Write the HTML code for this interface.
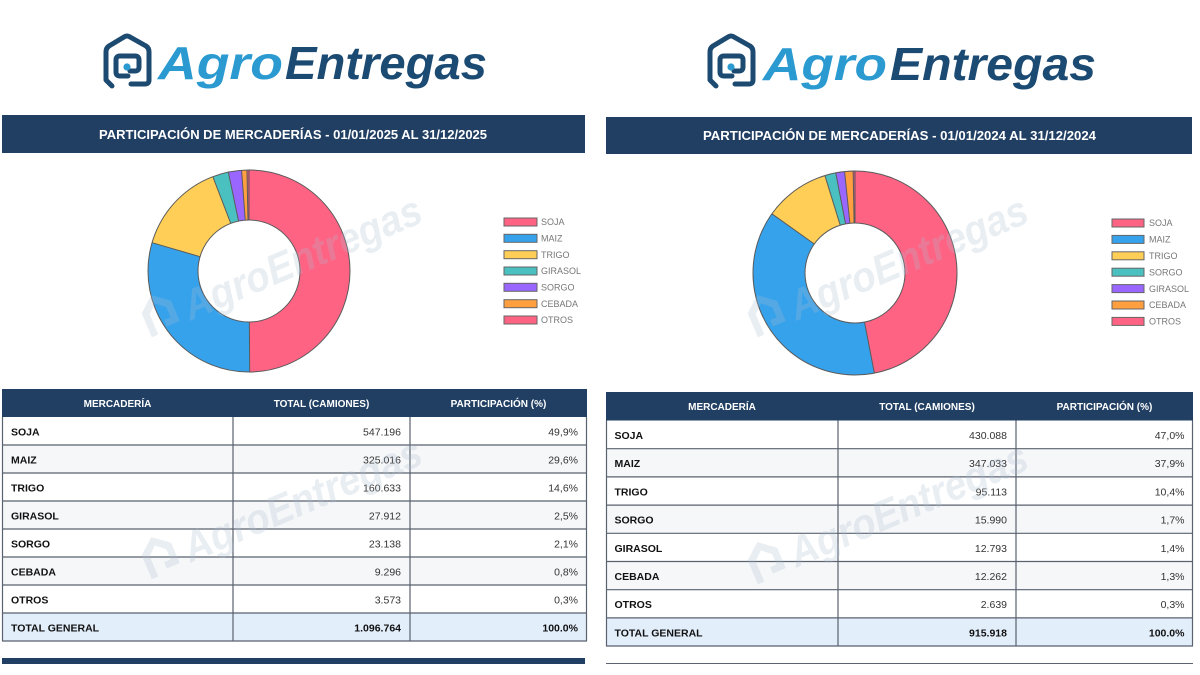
<!DOCTYPE html>
<html>
<head>
<meta charset="utf-8">
<style>
  html,body{margin:0;padding:0;background:#fff;}
  svg{display:block;}
  text{font-family:"Liberation Sans", Arial, sans-serif;}
</style>
</head>
<body>
<svg width="1200" height="675" viewBox="0 0 1200 675" xmlns="http://www.w3.org/2000/svg">
  <rect x="0" y="0" width="1200" height="675" fill="#ffffff"/>

  <!-- ============ LOGOS ============ -->
  <g id="logoL">
    <g fill="none" stroke="#1d4a70" stroke-width="5" stroke-linejoin="round" stroke-linecap="round">
      <path d="M112 86 L106 80 L106 52 Q106 48 109 46 L124 37 Q127 35 130 37 L146 46 Q149 48 149 52 L149 80 Q149 84 145 84 L131 84"/>
      <path d="M128 76 L120 76 Q116 76 116 72 L116 60 Q116 56 120 56 L135 56 Q139 56 139 60 L139 67 Q139 71 135 71 L130 71"/>
    </g>
    <circle cx="127" cy="67" r="3.6" fill="#2a9ad0"/>
    <text x="158" y="79" font-size="46" font-weight="bold" font-style="italic" fill="#2a9ad0" textLength="125" lengthAdjust="spacingAndGlyphs">Agro</text>
    <text x="285" y="79" font-size="46" font-weight="bold" font-style="italic" fill="#1b4a72" textLength="202" lengthAdjust="spacingAndGlyphs">Entregas</text>
  </g>
  <g id="logoR">
    <g fill="none" stroke="#1d4a70" stroke-width="5" stroke-linejoin="round" stroke-linecap="round" transform="translate(604,0)">
      <path d="M112 86 L106 80 L106 52 Q106 48 109 46 L124 37 Q127 35 130 37 L146 46 Q149 48 149 52 L149 80 Q149 84 145 84 L131 84"/>
      <path d="M128 76 L120 76 Q116 76 116 72 L116 60 Q116 56 120 56 L135 56 Q139 56 139 60 L139 67 Q139 71 135 71 L130 71"/>
    </g>
    <circle cx="731" cy="67" r="3.6" fill="#2a9ad0"/>
    <text x="763" y="80" font-size="46" font-weight="bold" font-style="italic" fill="#2a9ad0" textLength="124" lengthAdjust="spacingAndGlyphs">Agro</text>
    <text x="890" y="80" font-size="46" font-weight="bold" font-style="italic" fill="#1b4a72" textLength="206" lengthAdjust="spacingAndGlyphs">Entregas</text>
  </g>

  <!-- ============ TITLE BARS ============ -->
  <rect x="2" y="115" width="583" height="38" fill="#213f63"/>
  <text x="99" y="139" font-size="13" font-weight="bold" fill="#ffffff" textLength="388" lengthAdjust="spacingAndGlyphs">PARTICIPACIÓN DE MERCADERÍAS - 01/01/2025 AL 31/12/2025</text>
  <rect x="606" y="117" width="586" height="37" fill="#213f63"/>
  <text x="703" y="140" font-size="13" font-weight="bold" fill="#ffffff" textLength="393" lengthAdjust="spacingAndGlyphs">PARTICIPACIÓN DE MERCADERÍAS - 01/01/2024 AL 31/12/2024</text>

  <!-- ============ LEFT DONUT ============ -->
  <g fill="none" stroke-width="50" transform="rotate(-90 249 271)">
    <circle cx="249" cy="271" r="76" stroke="#ff6384" stroke-dasharray="238.245 477.522" stroke-dashoffset="0"/>
    <circle cx="249" cy="271" r="76" stroke="#36a2eb" stroke-dasharray="141.509 477.522" stroke-dashoffset="-238.245"/>
    <circle cx="249" cy="271" r="76" stroke="#ffce56" stroke-dasharray="69.938 477.522" stroke-dashoffset="-379.754"/>
    <circle cx="249" cy="271" r="76" stroke="#4bc0c0" stroke-dasharray="12.153 477.522" stroke-dashoffset="-449.692"/>
    <circle cx="249" cy="271" r="76" stroke="#9966ff" stroke-dasharray="10.076 477.522" stroke-dashoffset="-461.845"/>
    <circle cx="249" cy="271" r="76" stroke="#ff9f40" stroke-dasharray="4.049 477.522" stroke-dashoffset="-471.921"/>
    <circle cx="249" cy="271" r="76" stroke="#e8577a" stroke-dasharray="1.557 477.522" stroke-dashoffset="-475.970"/>
  </g>
  <g stroke="#5a5a5a" stroke-width="1" fill="none">
    <circle cx="249" cy="271" r="101"/>
    <circle cx="249" cy="271" r="51"/>
    <line x1="249" y1="220" x2="249" y2="170"/>
    <line x1="249.35" y1="322" x2="249.7" y2="372"/>
    <line x1="200.05" y1="256.69" x2="152.06" y2="242.67"/>
    <line x1="230.74" y1="223.38" x2="212.84" y2="176.70"/>
    <line x1="238.56" y1="221.08" x2="228.32" y2="172.14"/>
    <line x1="245.25" y1="220.14" x2="241.57" y2="170.27"/>
    <line x1="247.96" y1="220.01" x2="246.94" y2="170.02"/>
  </g>

  <!-- left legend -->
  <g stroke-width="1" stroke="#666">
    <rect x="504" y="218" width="33" height="8" fill="#ff6384"/>
    <rect x="504" y="234.3" width="33" height="8" fill="#36a2eb"/>
    <rect x="504" y="250.7" width="33" height="8" fill="#ffce56"/>
    <rect x="504" y="267" width="33" height="8" fill="#4bc0c0"/>
    <rect x="504" y="283.3" width="33" height="8" fill="#9966ff"/>
    <rect x="504" y="299.7" width="33" height="8" fill="#ff9f40"/>
    <rect x="504" y="316" width="33" height="8" fill="#ff6384"/>
  </g>
  <g font-size="9" fill="#777">
    <text x="541" y="225.2">SOJA</text>
    <text x="541" y="241.5">MAIZ</text>
    <text x="541" y="257.9">TRIGO</text>
    <text x="541" y="274.2">GIRASOL</text>
    <text x="541" y="290.5">SORGO</text>
    <text x="541" y="306.9">CEBADA</text>
    <text x="541" y="323.2">OTROS</text>
  </g>

  <!-- ============ RIGHT DONUT ============ -->
  <g fill="none" stroke-width="52" transform="rotate(-90 855 273)">
    <circle cx="855" cy="273" r="76" stroke="#ff6384" stroke-dasharray="224.230 477.522" stroke-dashoffset="0"/>
    <circle cx="855" cy="273" r="76" stroke="#36a2eb" stroke-dasharray="180.929 477.522" stroke-dashoffset="-224.230"/>
    <circle cx="855" cy="273" r="76" stroke="#ffce56" stroke-dasharray="49.586 477.522" stroke-dashoffset="-405.159"/>
    <circle cx="855" cy="273" r="76" stroke="#4bc0c0" stroke-dasharray="8.338 477.522" stroke-dashoffset="-454.745"/>
    <circle cx="855" cy="273" r="76" stroke="#9966ff" stroke-dasharray="6.671 477.522" stroke-dashoffset="-463.083"/>
    <circle cx="855" cy="273" r="76" stroke="#ff9f40" stroke-dasharray="6.394 477.522" stroke-dashoffset="-469.754"/>
    <circle cx="855" cy="273" r="76" stroke="#e8577a" stroke-dasharray="1.375 477.522" stroke-dashoffset="-476.148"/>
  </g>
  <g stroke="#5a5a5a" stroke-width="1" fill="none">
    <circle cx="855" cy="273" r="102"/>
    <circle cx="855" cy="273" r="50"/>
    <line x1="855" y1="223" x2="855" y2="171"/>
    <line x1="864.5" y1="322.09" x2="874.38" y2="373.14"/>
    <line x1="814.27" y1="244.0" x2="771.91" y2="213.84"/>
    <line x1="840.24" y1="225.23" x2="824.89" y2="175.55"/>
    <line x1="845.56" y1="223.9" x2="835.73" y2="172.84"/>
    <line x1="849.9" y1="223.26" x2="844.59" y2="171.53"/>
    <line x1="854.1" y1="223.01" x2="853.15" y2="171.02"/>
  </g>

  <!-- right legend -->
  <g stroke-width="1" stroke="#666">
    <rect x="1112" y="219" width="32" height="8" fill="#ff6384"/>
    <rect x="1112" y="235.4" width="32" height="8" fill="#36a2eb"/>
    <rect x="1112" y="251.8" width="32" height="8" fill="#ffce56"/>
    <rect x="1112" y="268.2" width="32" height="8" fill="#4bc0c0"/>
    <rect x="1112" y="284.6" width="32" height="8" fill="#9966ff"/>
    <rect x="1112" y="301" width="32" height="8" fill="#ff9f40"/>
    <rect x="1112" y="317.4" width="32" height="8" fill="#ff6384"/>
  </g>
  <g font-size="9" fill="#777">
    <text x="1149" y="226.2">SOJA</text>
    <text x="1149" y="242.6">MAIZ</text>
    <text x="1149" y="259">TRIGO</text>
    <text x="1149" y="275.4">SORGO</text>
    <text x="1149" y="291.8">GIRASOL</text>
    <text x="1149" y="308.2">CEBADA</text>
    <text x="1149" y="324.6">OTROS</text>
  </g>

  <!-- ============ LEFT TABLE ============ -->
  <rect x="2" y="389" width="585" height="28" fill="#213f63"/>
  <g font-size="10" font-weight="bold" fill="#ffffff" text-anchor="middle">
    <text x="117.5" y="407">MERCADERÍA</text>
    <text x="321.5" y="407">TOTAL (CAMIONES)</text>
    <text x="498.5" y="407">PARTICIPACIÓN (%)</text>
  </g>
  <rect x="2" y="417" width="585" height="28" fill="#ffffff"/>
  <rect x="2" y="445" width="585" height="28" fill="#f6f7f9"/>
  <rect x="2" y="473" width="585" height="28" fill="#ffffff"/>
  <rect x="2" y="501" width="585" height="28" fill="#f6f7f9"/>
  <rect x="2" y="529" width="585" height="28" fill="#ffffff"/>
  <rect x="2" y="557" width="585" height="28" fill="#f6f7f9"/>
  <rect x="2" y="585" width="585" height="28" fill="#ffffff"/>
  <rect x="2" y="613" width="585" height="28" fill="#e3eefb"/>
  <g stroke="#59626e" stroke-width="1.2">
    <line x1="2" y1="445" x2="587" y2="445"/>
    <line x1="2" y1="473" x2="587" y2="473"/>
    <line x1="2" y1="501" x2="587" y2="501"/>
    <line x1="2" y1="529" x2="587" y2="529"/>
    <line x1="2" y1="557" x2="587" y2="557"/>
    <line x1="2" y1="585" x2="587" y2="585"/>
    <line x1="2" y1="613" x2="587" y2="613"/>
    <line x1="2" y1="641" x2="587" y2="641"/>
    <line x1="233" y1="417" x2="233" y2="641"/>
    <line x1="410" y1="417" x2="410" y2="641"/>
    <line x1="2.5" y1="417" x2="2.5" y2="641"/>
    <line x1="586.5" y1="417" x2="586.5" y2="641"/>
  </g>
  <g font-size="10.5" font-weight="bold" fill="#111">
    <text x="11" y="435.5">SOJA</text>
    <text x="11" y="463.5">MAIZ</text>
    <text x="11" y="491.5">TRIGO</text>
    <text x="11" y="519.5">GIRASOL</text>
    <text x="11" y="547.5">SORGO</text>
    <text x="11" y="575.5">CEBADA</text>
    <text x="11" y="603.5">OTROS</text>
    <text x="11" y="631.5">TOTAL GENERAL</text>
  </g>
  <g font-size="10.5" fill="#333" text-anchor="end">
    <text x="401" y="435.5">547.196</text>
    <text x="401" y="463.5">325.016</text>
    <text x="401" y="491.5">160.633</text>
    <text x="401" y="519.5">27.912</text>
    <text x="401" y="547.5">23.138</text>
    <text x="401" y="575.5">9.296</text>
    <text x="401" y="603.5">3.573</text>
    <text x="578" y="435.5">49,9%</text>
    <text x="578" y="463.5">29,6%</text>
    <text x="578" y="491.5">14,6%</text>
    <text x="578" y="519.5">2,5%</text>
    <text x="578" y="547.5">2,1%</text>
    <text x="578" y="575.5">0,8%</text>
    <text x="578" y="603.5">0,3%</text>
  </g>
  <g font-size="10.5" font-weight="bold" fill="#111" text-anchor="end">
    <text x="401" y="631.5">1.096.764</text>
    <text x="578" y="631.5">100.0%</text>
  </g>
  <rect x="2" y="658" width="583" height="6" fill="#213f63"/>

  <!-- ============ RIGHT TABLE ============ -->
  <rect x="606" y="392" width="587" height="28.5" fill="#213f63"/>
  <g font-size="10" font-weight="bold" fill="#ffffff" text-anchor="middle">
    <text x="722" y="410">MERCADERÍA</text>
    <text x="927" y="410">TOTAL (CAMIONES)</text>
    <text x="1104.5" y="410">PARTICIPACIÓN (%)</text>
  </g>
  <rect x="606" y="420.5" width="587" height="28.2" fill="#ffffff"/>
  <rect x="606" y="448.7" width="587" height="28.2" fill="#f6f7f9"/>
  <rect x="606" y="476.9" width="587" height="28.2" fill="#ffffff"/>
  <rect x="606" y="505.1" width="587" height="28.2" fill="#f6f7f9"/>
  <rect x="606" y="533.3" width="587" height="28.2" fill="#ffffff"/>
  <rect x="606" y="561.5" width="587" height="28.2" fill="#f6f7f9"/>
  <rect x="606" y="589.7" width="587" height="28.2" fill="#ffffff"/>
  <rect x="606" y="617.9" width="587" height="28.1" fill="#e3eefb"/>
  <g stroke="#59626e" stroke-width="1.2">
    <line x1="606" y1="448.7" x2="1193" y2="448.7"/>
    <line x1="606" y1="476.9" x2="1193" y2="476.9"/>
    <line x1="606" y1="505.1" x2="1193" y2="505.1"/>
    <line x1="606" y1="533.3" x2="1193" y2="533.3"/>
    <line x1="606" y1="561.5" x2="1193" y2="561.5"/>
    <line x1="606" y1="589.7" x2="1193" y2="589.7"/>
    <line x1="606" y1="617.9" x2="1193" y2="617.9"/>
    <line x1="606" y1="646" x2="1193" y2="646"/>
    <line x1="838" y1="420.5" x2="838" y2="646"/>
    <line x1="1016" y1="420.5" x2="1016" y2="646"/>
    <line x1="606.5" y1="420.5" x2="606.5" y2="646"/>
    <line x1="1192.5" y1="420.5" x2="1192.5" y2="646"/>
  </g>
  <g font-size="10.5" font-weight="bold" fill="#111">
    <text x="614.5" y="439">SOJA</text>
    <text x="614.5" y="467.2">MAIZ</text>
    <text x="614.5" y="495.4">TRIGO</text>
    <text x="614.5" y="523.6">SORGO</text>
    <text x="614.5" y="551.8">GIRASOL</text>
    <text x="614.5" y="580">CEBADA</text>
    <text x="614.5" y="608.2">OTROS</text>
    <text x="614.5" y="636.4">TOTAL GENERAL</text>
  </g>
  <g font-size="10.5" fill="#333" text-anchor="end">
    <text x="1007" y="439">430.088</text>
    <text x="1007" y="467.2">347.033</text>
    <text x="1007" y="495.4">95.113</text>
    <text x="1007" y="523.6">15.990</text>
    <text x="1007" y="551.8">12.793</text>
    <text x="1007" y="580">12.262</text>
    <text x="1007" y="608.2">2.639</text>
    <text x="1184.5" y="439">47,0%</text>
    <text x="1184.5" y="467.2">37,9%</text>
    <text x="1184.5" y="495.4">10,4%</text>
    <text x="1184.5" y="523.6">1,7%</text>
    <text x="1184.5" y="551.8">1,4%</text>
    <text x="1184.5" y="580">1,3%</text>
    <text x="1184.5" y="608.2">0,3%</text>
  </g>
  <g font-size="10.5" font-weight="bold" fill="#111" text-anchor="end">
    <text x="1007" y="636.4">915.918</text>
    <text x="1184.5" y="636.4">100.0%</text>
  </g>
  <line x1="606" y1="663.5" x2="1193" y2="663.5" stroke="#5b6470" stroke-width="1"/>

  <!-- ============ WATERMARKS ============ -->
  <g opacity="0.26" fill="#a9bdd2">
    <g transform="translate(150,338) rotate(-23)">
      <path d="M2 0 L2 -26 L18 -39 L34 -26 L34 -4 L20 -4 L20 -11 L27 -11 L27 -22 L18 -30 L9 -22 L9 0 Z"/>
      <text x="44" y="0" font-size="42" font-weight="bold" font-style="italic" textLength="255" lengthAdjust="spacingAndGlyphs">AgroEntregas</text>
    </g>
    <g transform="translate(150,580) rotate(-23)">
      <path d="M2 0 L2 -26 L18 -39 L34 -26 L34 -4 L20 -4 L20 -11 L27 -11 L27 -22 L18 -30 L9 -22 L9 0 Z"/>
      <text x="44" y="0" font-size="42" font-weight="bold" font-style="italic" textLength="255" lengthAdjust="spacingAndGlyphs">AgroEntregas</text>
    </g>
    <g transform="translate(756,338) rotate(-23)">
      <path d="M2 0 L2 -26 L18 -39 L34 -26 L34 -4 L20 -4 L20 -11 L27 -11 L27 -22 L18 -30 L9 -22 L9 0 Z"/>
      <text x="44" y="0" font-size="42" font-weight="bold" font-style="italic" textLength="255" lengthAdjust="spacingAndGlyphs">AgroEntregas</text>
    </g>
    <g transform="translate(756,585) rotate(-23)">
      <path d="M2 0 L2 -26 L18 -39 L34 -26 L34 -4 L20 -4 L20 -11 L27 -11 L27 -22 L18 -30 L9 -22 L9 0 Z"/>
      <text x="44" y="0" font-size="42" font-weight="bold" font-style="italic" textLength="255" lengthAdjust="spacingAndGlyphs">AgroEntregas</text>
    </g>
  </g>
</svg>
</body>
</html>
